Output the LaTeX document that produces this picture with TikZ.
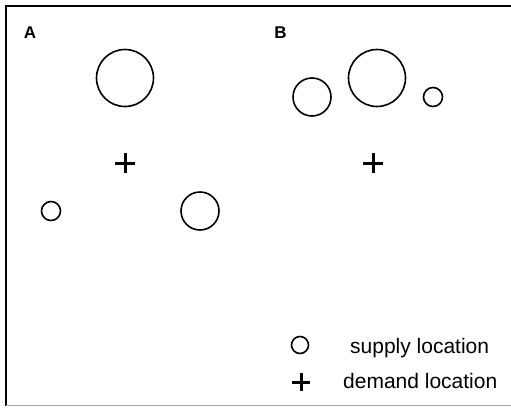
\documentclass[tikz,border=0pt]{standalone}
\usepackage{fontspec}
\setmainfont{Liberation Sans}
\usetikzlibrary{positioning}

\tikzset{
    supply/.style={draw, circle, line width=1.6pt, inner sep=0pt},
    demand/.style={inner sep=0pt, minimum size=20pt,
        path picture={\draw[line width=3pt]
            (path picture bounding box.north) -- (path picture bounding box.south)
            (path picture bounding box.west) -- (path picture bounding box.east);}},
    panel/.style={font=\bfseries\fontsize{17}{17}\selectfont},
    keytext/.style={font=\fontsize{21}{21}\selectfont, inner sep=0pt}
}

\begin{document}
\begin{tikzpicture}[x=1pt, y=-1pt]
    \useasboundingbox (0,0) rectangle (511,407);

    % Marco
    \draw[line width=2.5pt] (6,406) -- (6,6) -- (511,6);
    \draw[line width=1pt, black!35] (6,405) -- (511,405);

    % Panel A
    \node[panel] (labA) at (30,33) {A};
    \node[supply, minimum size=57pt] (a1) at (125,78) {};
    \node[supply, minimum size=19pt] (a2) at (51,211) {};
    \node[supply, minimum size=38pt] (a3) at (200,211) {};
    \node[demand] (dA) at (125,163) {};

    % Panel B
    \node[panel] (labB) at (280.5,33) {B};
    \node[supply, minimum size=38pt] (b1) at (312,97) {};
    \node[supply, minimum size=57pt] (b2) at (377,78) {};
    \node[supply, minimum size=19pt] (b3) at (433,97) {};
    \node[demand] (dB) at (373,163) {};

    % Leyenda
    \node[supply, minimum size=17pt] (keyS) at (300,345) {};
    \node[demand, minimum size=18pt] (keyD) at (301,382) {};
    \node[keytext, anchor=base west] (keyStxt) at (350,353) {supply location};
    \node[keytext, anchor=base west] (keyDtxt) at (343,388) {demand location};

\end{tikzpicture}
\end{document}
